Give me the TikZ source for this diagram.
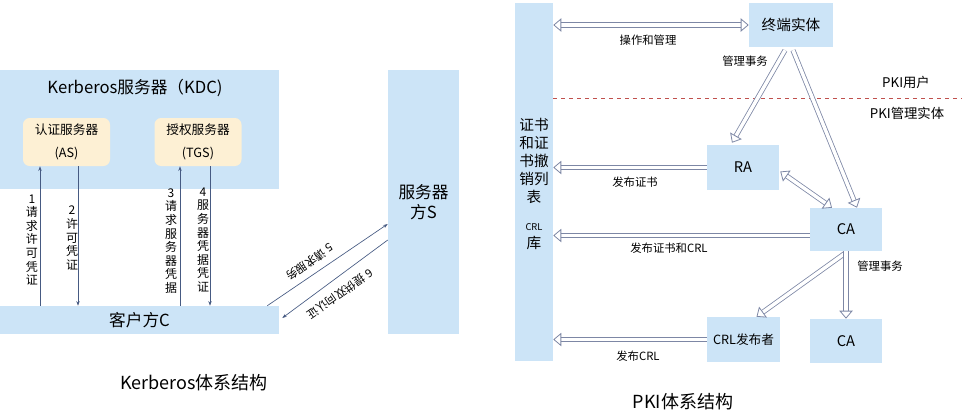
\documentclass[tikz,border=0pt]{standalone}
\usepackage{fontspec}
\setmainfont{Noto Sans CJK SC}
\usetikzlibrary{arrows.meta,calc}
\definecolor{boxblue}{RGB}{204,228,247}
\definecolor{boxyellow}{RGB}{253,240,212}
\definecolor{kline}{RGB}{70,90,130}
\definecolor{hgray}{RGB}{125,135,165}
\definecolor{sepred}{RGB}{192,80,77}
\newcommand{\pxu}{0.75pt}

\begin{document}
\begin{tikzpicture}[x=0.75pt, y=-0.75pt,
    bluebox/.style={rectangle, fill=boxblue, inner sep=0pt, align=center},
    serverbox/.style={rectangle, rounded corners=5pt, fill=boxyellow,
      inner sep=0pt, align=center, font=\fontsize{9.5}{17}\selectfont,
      minimum width=87*\pxu, minimum height=48*\pxu},
    pkibox/.style={bluebox, minimum width=72*\pxu, minimum height=44*\pxu,
      font=\fontsize{11}{13}\selectfont},
    karrow/.style={-{Stealth[length=3.5pt, width=2.5pt]}, draw=kline, line width=0.5pt},
    vlab/.style={align=center, inner sep=0pt, font=\fontsize{9}{10.2}\selectfont},
    slab/.style={inner sep=0pt, font=\fontsize{8.5}{10}\selectfont},
    harrow/.style={draw=hgray, line width=0.6pt, double=white, double distance=2.6pt,
      -{Triangle[open, length=6pt, width=10pt]}},
    hdarrow/.style={harrow, {Triangle[open, length=6pt, width=10pt]}-{Triangle[open, length=6pt, width=10pt]}},
    caption/.style={inner sep=0pt, font=\fontsize{13.5}{15}\selectfont}
  ]
  \useasboundingbox (0,0) rectangle (967,415);

  \node[bluebox, minimum width=279*\pxu, minimum height=119*\pxu] (kdc) at (139.5,129.5) {};
  \node[inner sep=0pt, font=\fontsize{12.5}{14}\selectfont] (kdct) at (135,88) {Kerberos服务器（KDC)};
  \node[serverbox] (as)  at (66.5,142) {认证服务器\\(AS)};
  \node[serverbox] (tgs) at (198,142)  {授权服务器\\(TGS)};
  \node[bluebox, minimum width=279*\pxu, minimum height=28*\pxu,
    font=\fontsize{12.5}{14}\selectfont] (client) at (139.5,320) {客户方C};
  \node[bluebox, minimum width=71*\pxu, minimum height=264*\pxu,
    font=\fontsize{12.5}{15}\selectfont] (server) at (423.5,202) {服务器\\方S};

  \draw[karrow] (client.north -| 40,0) -- (as.south -| 40,0);
  \draw[karrow] (as.south -| 78,0) -- (client.north -| 78,0);
  \draw[karrow] (client.north -| 180,0) -- (tgs.south -| 180,0);
  \draw[karrow] (tgs.south -| 210,0) -- (client.north -| 210,0);
  \draw[karrow] ($(client.north east)+(-12,0)$) -- (server.west |- 0,224);
  \draw[karrow] (server.west |- 0,240) -- ($(client.east)+(3,-2)$);

  \node[vlab] (l1) at (32,240)  {1\\请\\求\\许\\可\\凭\\证};
  \node[vlab] (l2) at (72,238)  {2\\许\\可\\凭\\证};
  \node[vlab] (l3) at (171,241) {3\\请\\求\\服\\务\\器\\凭\\据};
  \node[vlab] (l4) at (203,240) {4\\服\\务\\器\\凭\\据\\凭\\证};
  \node[slab, rotate=215] (l5) at (310,262) {5 请求服务};
  \node[slab, rotate=215] (l6) at (340,294) {6 提供双向认证};

  \node[caption] (kcap) at (194,383) {Kerberos体系结构};

  \node[bluebox, minimum width=38*\pxu, minimum height=358*\pxu] (repo) at (534,182) {};
  \node[align=center, inner sep=0pt, font=\fontsize{11}{13.5}\selectfont] (repot) at (534,161)
    {证书\\和证\\书撤\\销列\\表};
  \node[inner sep=0pt, font=\fontsize{7}{8}\selectfont] (crlt) at (534,227) {CRL};
  \node[inner sep=0pt, font=\fontsize{11}{13}\selectfont] (kut) at (534,243) {库};

  \node[pkibox, minimum width=84*\pxu] (ee) at (791,25) {终端实体};
  \node[pkibox, minimum height=45*\pxu] (ra) at (743,167.5) {RA};
  \node[pkibox, minimum height=43*\pxu] (ca) at (846,229.5) {CA};
  \node[pkibox, minimum width=73*\pxu, minimum height=45*\pxu,
    font=\fontsize{9.5}{11}\selectfont] (crlp) at (743.5,339.5) {CRL发布者};
  \node[pkibox] (ca2) at (846,341) {CA};

  \draw[sepred, dashed, line width=0.6pt] (repo.east |- 0,98) -- (962,98);
  \node[inner sep=0pt, font=\fontsize{10}{12}\selectfont] (usr) at (906,82) {PKI用户};
  \node[inner sep=0pt, font=\fontsize{10}{12}\selectfont] (mgr) at (907,113) {PKI管理实体};

  \draw[hdarrow] (repo.east |- ee.west) -- (ee.west);
  \draw[harrow] ($(ee.south)+(-6,3)$) -- ($(ra.north)+(-11,-2)$);
  \draw[harrow] ($(ee.south)+(2,3)$) -- ($(ca.north)+(11,0)$);
  \draw[hdarrow] ($(ra.east)+(1,4)$) -- ($(ca.north)+(-14,0)$);
  \draw[harrow] (ra.west) -- (repo.east |- ra.west);
  \draw[harrow] ($(ca.west)+(0,6)$) -- (repo.east |- 0,235.5);
  \draw[harrow] ($(ca.south)+(-1,2)$) -- ($(crlp.north)+(13,0)$);
  \draw[harrow] (ca.south) -- (ca2.north);
  \draw[harrow] (crlp.west) -- (repo.east |- crlp.west);

  \node[slab] (t1) at (648,40)  {操作和管理};
  \node[slab] (t2) at (745,61)  {管理事务};
  \node[slab] (t3) at (635,182) {发布证书};
  \node[slab] (t4) at (669,248) {发布证书和CRL};
  \node[slab] (t5) at (880,266) {管理事务};
  \node[slab] (t6) at (638,356) {发布CRL};

  \node[caption] (pcap) at (683,402) {PKI体系结构};
\end{tikzpicture}
\end{document}
